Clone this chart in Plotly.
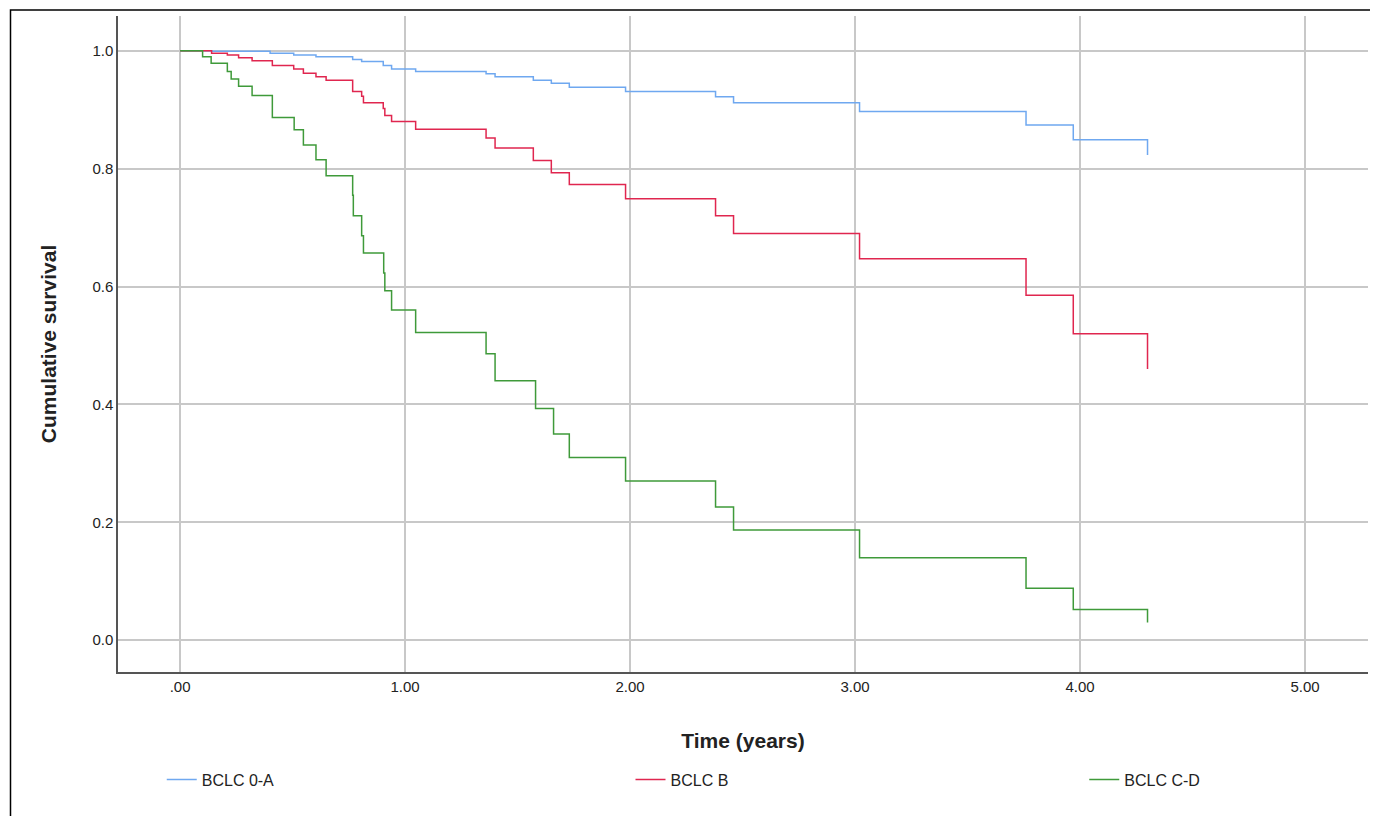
import plotly.graph_objects as go

# Kaplan-Meier step points (time in years, cumulative survival)
blue_t = [0, 0.14, 0.40, 0.505, 0.604, 0.767, 0.807, 0.903, 0.94, 1.047, 1.36, 1.40, 1.57, 1.65, 1.73,
          1.98, 2.38, 2.46, 3.02, 3.76, 3.97, 4.30, 4.30]
blue_s = [1.0, 0.999, 0.996, 0.993, 0.99, 0.985, 0.982, 0.975, 0.969, 0.965, 0.961, 0.956, 0.95, 0.945, 0.938,
          0.931, 0.922, 0.912, 0.897, 0.874, 0.849, 0.849, 0.823]

red_t = [0, 0.14, 0.21, 0.26, 0.32, 0.41, 0.505, 0.548, 0.604, 0.649, 0.767, 0.807, 0.815, 0.903, 0.91,
         0.94, 1.047, 1.36, 1.40, 1.57, 1.65, 1.73, 1.98, 2.38, 2.46, 3.02, 3.76, 3.97, 4.30, 4.30]
red_s = [1.0, 0.996, 0.993, 0.988, 0.983, 0.975, 0.969, 0.962, 0.956, 0.95, 0.931, 0.923, 0.912, 0.902, 0.89,
         0.88, 0.867, 0.852, 0.835, 0.814, 0.793, 0.773, 0.749, 0.72, 0.69, 0.647, 0.585, 0.52, 0.52, 0.46]

green_t = [0, 0.10, 0.138, 0.21, 0.227, 0.26, 0.32, 0.41, 0.507, 0.548, 0.604, 0.649, 0.767, 0.77, 0.807,
           0.815, 0.905, 0.91, 0.94, 1.047, 1.36, 1.40, 1.58, 1.66, 1.73, 1.98, 2.38, 2.46, 3.02, 3.76, 3.97,
           4.30, 4.30]
green_s = [1.0, 0.99, 0.979, 0.965, 0.952, 0.94, 0.924, 0.887, 0.866, 0.84, 0.815, 0.788, 0.755, 0.72, 0.686,
           0.657, 0.623, 0.593, 0.56, 0.522, 0.486, 0.44, 0.393, 0.35, 0.31, 0.27, 0.226, 0.187, 0.14, 0.088,
           0.052, 0.052, 0.03]

x_ticks = [0, 1, 2, 3, 4, 5]
x_labels = [".00", "1.00", "2.00", "3.00", "4.00", "5.00"]
y_ticks = [0, 0.2, 0.4, 0.6, 0.8, 1.0]
y_labels = ["0.0", "0.2", "0.4", "0.6", "0.8", "1.0"]

series = [("BCLC 0-A", blue_t, blue_s, "#6fa8f0", "legend", 0.035),
          ("BCLC B", red_t, red_s, "#e0264f", "legend2", 0.41),
          ("BCLC C-D", green_t, green_s, "#3f9a3a", "legend3", 0.773)]

fig = go.Figure()
legends = {}
for name, t, s, color, leg, lx in series:
    fig.add_trace(go.Scatter(x=t, y=s, mode="lines", name=name, line_shape="hv", legend=leg,
                             showlegend=True, line=dict(color=color, width=1.5)))
    legends[leg] = dict(x=lx, y=-0.138, xanchor="left", yanchor="top", font=dict(size=16),
                        bgcolor="rgba(0,0,0,0)")

# page body adds 8px, so the figure is 1370x808
fig.update_layout(
    width=1370, height=808, showlegend=True,
    margin=dict(l=110, r=10, t=8, b=144, autoexpand=False),
    plot_bgcolor="white", paper_bgcolor="white",
    font=dict(family="Liberation Sans, Arial", size=15, color="#222"),
    shapes=[dict(type="rect", xref="paper", yref="paper", x0=-0.086, x1=1.02, y0=-0.3, y1=1.009,
                 line=dict(color="black", width=1.5))],
    **legends,
)
fig.update_xaxes(range=[-0.276, 5.28], tickvals=x_ticks, ticktext=x_labels,
                 showgrid=True, gridcolor="#c8c8c8", gridwidth=2, zeroline=False,
                 showline=True, linecolor="#555", linewidth=1.5,
                 title=dict(text="<b>Time (years)</b>", font=dict(size=21), standoff=40))
fig.update_yaxes(range=[-0.054, 1.059], tickvals=y_ticks, ticktext=y_labels,
                 showgrid=True, gridcolor="#c8c8c8", gridwidth=2, zeroline=False,
                 showline=True, linecolor="#555", linewidth=1.5,
                 title=dict(text="<b>Cumulative survival</b>", font=dict(size=21), standoff=30))

fig.write_html("out.html")
